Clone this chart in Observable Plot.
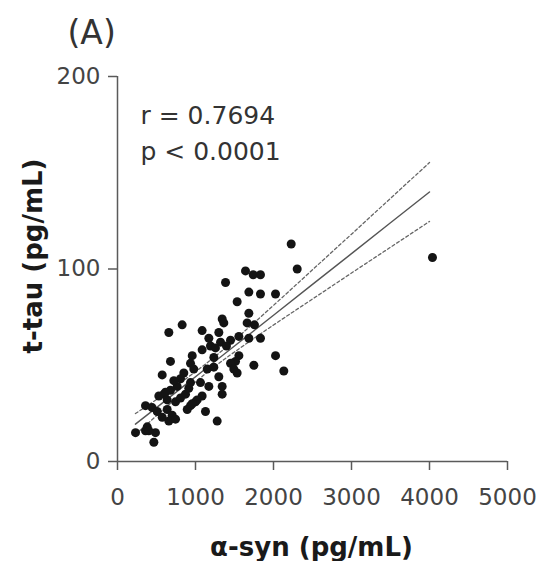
<!DOCTYPE html>
<html>
<head>
<meta charset="utf-8">
<script src="https://cdn.jsdelivr.net/npm/d3@7"></script>
<script src="https://cdn.jsdelivr.net/npm/@observablehq/plot@0.6"></script>
<style>
  html, body { margin: 0; padding: 0; background: #fff; }
  #chart { width: 537px; height: 561px; }
</style>
</head>
<body>
<div id="chart"></div>
<script>
// α-synuclein vs total tau, one dot per subject (pg/mL)
const synValues = [
  2227, 2304, 1641, 1740, 1833, 1385, 1684, 1833, 2026, 1534,
  1684, 1342, 1363, 1662, 1756, 829, 658, 1085, 1299, 1171,
  1192, 1449, 1556, 1684, 1833, 1321, 1397, 1085, 958, 1235,
  1556, 1513, 2026, 1748, 2132, 1449, 1491, 1534, 679, 936,
  978, 850, 808, 573, 1299, 1171, 1342, 1342, 1085, 765,
  679, 594, 530, 637, 744, 808, 872, 1000, 936, 894,
  1128, 1278, 359, 444, 509, 637, 701, 573, 658, 744,
  381, 231, 359, 487, 466, 1064, 722, 4038, 914, 936,
  1150, 1235, 1256, 1021, 615, 401, 958
];
const tauValues = [
  113, 100, 99, 97, 97, 93, 88, 87, 87, 83,
  77, 74, 72, 72, 71, 71, 67, 68, 67, 64,
  60, 63, 65, 64, 64, 62, 60, 58, 55, 54,
  55, 52, 55, 50, 47, 51, 48, 46, 52, 51,
  48, 46, 43, 45, 44, 39, 39, 35, 34, 39,
  37, 35, 34, 32, 31, 33, 35, 31, 29, 27,
  26, 21, 29, 28, 26, 27, 24, 23, 21, 22,
  18, 15, 16, 15, 10, 41, 42, 106, 38, 41,
  48, 49, 59, 32, 36, 16, 30
];

// Fitted regression line and its 95% confidence band
const fitX     = [230, 500, 800, 1150, 1500, 2000, 2500, 3000, 3500, 4000];
const fitY     = [19.4, 28.0, 37.6, 48.8, 60.0, 76.0, 92.0, 108.0, 124.0, 140.0];
const bandUpper = [24.9, 32.2, 40.7, 51.3, 63.1, 81.1, 99.6, 118.1, 136.7, 155.3];
const bandLower = [13.9, 23.8, 34.5, 46.3, 56.9, 70.9, 84.4, 97.9, 111.3, 124.7];

// Axis ticks
const xTicks = [0, 1000, 2000, 3000, 4000, 5000];
const yTicks = [0, 100, 200];

const panelLabel = "(A)";
const statLines = ["r = 0.7694", "p < 0.0001"];
const xTitle = "α-syn (pg/mL)";
const yTitle = "t-tau (pg/mL)";

const points = synValues.map((s, i) => ({syn: s, tau: tauValues[i]}));
const fit = fitX.map((x, i) => ({x, y: fitY[i]}));
const upper = fitX.map((x, i) => ({x, y: bandUpper[i]}));
const lower = fitX.map((x, i) => ({x, y: bandLower[i]}));

const axisStroke = "#5a5a5a";
const tickText = "#444";
const plain = d => String(d);

const chart = Plot.plot({
  width: 537,
  height: 561,
  marginLeft: 117,
  marginRight: 30,
  marginTop: 76,
  marginBottom: 100,
  style: {fontFamily: "DejaVu Sans", background: "#fff"},
  x: {domain: [0, 5000]},
  y: {domain: [0, 200]},
  marks: [
    Plot.ruleY([0], {stroke: axisStroke, strokeWidth: 1.5}),
    Plot.ruleX([0], {stroke: axisStroke, strokeWidth: 1.5}),
    Plot.axisX({ticks: xTicks, tickFormat: plain, tickSize: 9, tickPadding: 18, fontSize: 23,
                stroke: axisStroke, strokeWidth: 1.5, fill: tickText, label: null}),
    Plot.axisY({ticks: yTicks, tickFormat: plain, tickSize: 9, tickPadding: 8, fontSize: 23,
                stroke: axisStroke, strokeWidth: 1.5, fill: tickText, label: null}),
    Plot.line(upper, {x: "x", y: "y", stroke: "#666", strokeWidth: 1.3,
                      strokeDasharray: "3,2.5", curve: "natural"}),
    Plot.line(lower, {x: "x", y: "y", stroke: "#666", strokeWidth: 1.3,
                      strokeDasharray: "3,2.5", curve: "natural"}),
    Plot.line(fit, {x: "x", y: "y", stroke: "#555", strokeWidth: 1.4}),
    Plot.dot(points, {x: "syn", y: "tau", r: 4.5, fill: "#141414", stroke: "none"}),
    Plot.text([panelLabel], {frameAnchor: "top-left", textAnchor: "start", lineAnchor: "top",
                             dx: -50, dy: -56, fontSize: 33, fill: "#333"}),
    Plot.text([statLines[0]], {frameAnchor: "top-left", textAnchor: "start", lineAnchor: "top",
                               dx: 23, dy: 29.5, fontSize: 25, fill: "#333"}),
    Plot.text([statLines[1]], {frameAnchor: "top-left", textAnchor: "start", lineAnchor: "top",
                               dx: 23, dy: 66, fontSize: 25, fill: "#333"}),
    Plot.text([xTitle], {frameAnchor: "bottom", textAnchor: "middle", lineAnchor: "top",
                         dx: -1, dy: 76, fontSize: 26, fontWeight: "bold", fill: "#1a1a1a"}),
    Plot.text([yTitle], {frameAnchor: "left", textAnchor: "middle", lineAnchor: "middle",
                         rotate: -90, dx: -84, dy: -13, fontSize: 26, fontWeight: "bold", fill: "#1a1a1a"})
  ]
});

document.getElementById("chart").appendChild(chart);
</script>
</body>
</html>
